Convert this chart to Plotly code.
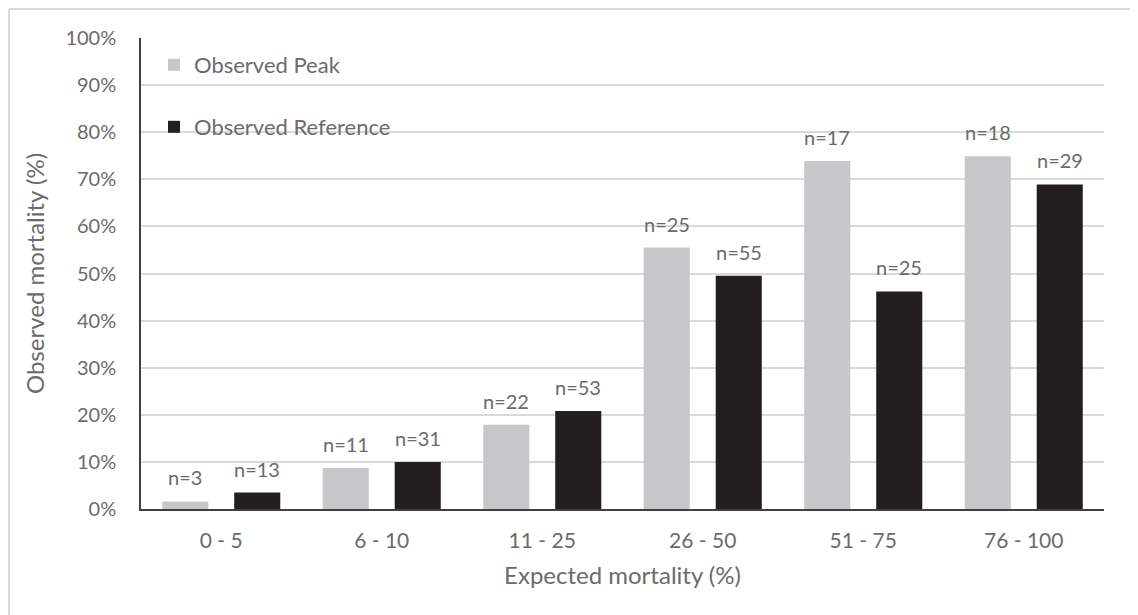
import plotly.graph_objects as go

categories = ["0 - 5", "6 - 10", "11 - 25", "26 - 50", "51 - 75", "76 - 100"]
peak_values = [1.6, 8.7, 17.9, 55.5, 73.9, 74.9]
ref_values = [3.5, 10.0, 20.8, 49.5, 46.2, 68.9]
peak_n = ["n=3", "n=11", "n=22", "n=25", "n=17", "n=18"]
ref_n = ["n=13", "n=31", "n=53", "n=55", "n=25", "n=29"]
y_ticks = [0, 10, 20, 30, 40, 50, 60, 70, 80, 90, 100]
y_tick_labels = [f"{v}%" for v in y_ticks]

FONT = "Lato"
TXT = "#6b6b6b"
PEAK_COLOR = "#c6c7c9"
REF_COLOR = "#231f20"

fig = go.Figure()
fig.add_trace(go.Bar(x=categories, y=peak_values, name="Observed Peak",
                     marker=dict(color=PEAK_COLOR, line=dict(width=0)),
                     showlegend=True, legend="legend"))
fig.add_trace(go.Bar(x=categories, y=ref_values, name="Observed Reference",
                     marker=dict(color=REF_COLOR, line=dict(width=0)),
                     showlegend=True, legend="legend2"))

annotations = []
for cat, v, t in zip(categories, peak_values, peak_n):
    annotations.append(dict(x=cat, y=v, text=t, xref="x", yref="y", showarrow=False,
                            xshift=-36, yshift=24, yanchor="middle",
                            font=dict(family=FONT, size=20, color=TXT)))
for cat, v, t in zip(categories, ref_values, ref_n):
    annotations.append(dict(x=cat, y=v, text=t, xref="x", yref="y", showarrow=False,
                            xshift=36, yshift=24, yanchor="middle",
                            font=dict(family=FONT, size=20, color=TXT)))

# figure is drawn at an 8px page offset
W, H = 1130, 607
L, R, T, B = 133, 34, 30, 106
pw, ph = W - L - R, H - T - B

def px(x):
    return (x - L) / pw

def py(y):
    return (H - B - y) / ph

shapes = [
    dict(type="line", xref="paper", yref="paper", x0=px(1), x1=px(1), y0=py(H + 5), y1=py(1),
         line=dict(color="#d9d9d9", width=2)),
    dict(type="line", xref="paper", yref="paper", x0=px(1), x1=px(W + 5), y0=py(1), y1=py(1),
         line=dict(color="#d9d9d9", width=2)),
]

fig.update_layout(
    width=W, height=H,
    margin=dict(l=L, r=R, t=T, b=B),
    paper_bgcolor="white", plot_bgcolor="white",
    font=dict(family=FONT, size=20, color=TXT),
    barmode="group", bargap=0.103, bargroupgap=0.36,
    annotations=annotations, shapes=shapes,
    legend=dict(x=px(146), y=py(36), xanchor="left", yanchor="top",
                bgcolor="rgba(0,0,0,0)", font=dict(family=FONT, size=22, color=TXT)),
    legend2=dict(x=px(146), y=py(98), xanchor="left", yanchor="top",
                 bgcolor="rgba(0,0,0,0)", font=dict(family=FONT, size=22, color=TXT)),
    xaxis=dict(showline=True, linecolor="#404040", linewidth=2, showgrid=False,
               ticks="", ticklabelstandoff=12,
               tickfont=dict(family=FONT, size=21, color=TXT),
               title=dict(text="Expected mortality (%)", standoff=16,
                          font=dict(family=FONT, size=24, color=TXT))),
    yaxis=dict(range=[0, 100], tickvals=y_ticks, ticktext=y_tick_labels,
               showline=True, linecolor="#404040", linewidth=1.5,
               showgrid=True, gridcolor="#d9d9d9", gridwidth=1.5,
               zeroline=False, ticks="", ticklabelstandoff=19,
               tickfont=dict(family=FONT, size=20, color=TXT),
               title=dict(text="Observed mortality (%)", standoff=14,
                          font=dict(family=FONT, size=24, color=TXT))),
)

fig.write_html("out.html")
